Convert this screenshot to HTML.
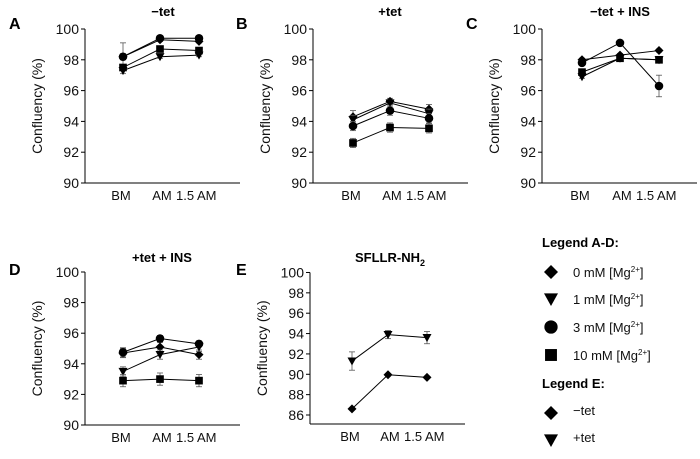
<!DOCTYPE html>
<html><head><meta charset="utf-8">
<style>
html,body{margin:0;padding:0;background:#fff;}
svg{display:block;font-family:"Liberation Sans",Arial,sans-serif;}
</style></head>
<body>
<svg id="fig" width="700" height="459" viewBox="0 0 700 459"></svg>
<script>
const categories = ["BM","AM","1.5 AM"];
const seriesNamesAD = ["0 mM","1 mM","3 mM","10 mM"];
const markerTypesAD = ["diamond","triangle","circle","square"];
const yTicksAD = [90,92,94,96,98,100];
const yTicksE = [86,88,90,92,94,96,98,100];
// Panel A (-tet)
const aDiamond = [98.2,99.3,99.2];
const aTriangle = [97.3,98.2,98.3];
const aCircle = [98.2,99.4,99.4];
const aSquare = [97.5,98.7,98.6];
const aErr = [[0.2,0.1,0.1],[0.2,0.1,0.1],[0.9,0.1,0.1],[0.2,0.1,0.1]];
// Panel B (+tet)
const bDiamond = [94.3,95.3,94.8];
const bTriangle = [94.1,95.2,94.5];
const bCircle = [93.7,94.7,94.2];
const bSquare = [92.6,93.6,93.55];
const bErr = [[0.4,0.2,0.3],[0.3,0.2,0.3],[0.3,0.3,0.3],[0.3,0.3,0.3]];
// Panel C (-tet + INS)
const cDiamond = [98.0,98.3,98.6];
const cTriangle = [96.9,98.1,98.0];
const cCircle = [97.8,99.1,96.3];
const cSquare = [97.2,98.1,98.0];
const cErr = [[0.1,0.1,0.1],[0.1,0.1,0.1],[0.1,0.1,0.7],[0.1,0.1,0.1]];
// Panel D (+tet + INS)
const dDiamond = [94.7,95.1,94.6];
const dTriangle = [93.5,94.6,95.1];
const dCircle = [94.75,95.65,95.3];
const dSquare = [92.9,93.0,92.9];
const dErr = [[0.3,0.3,0.3],[0.3,0.3,0.3],[0.3,0.2,0.2],[0.4,0.4,0.4]];
// Panel E (SFLLR-NH2)
const eMinusTet = [86.6,89.95,89.7];
const ePlusTet = [91.3,93.9,93.6];
const eErr = [[0.1,0.1,0.1],[0.9,0.4,0.6]];

const NS="http://www.w3.org/2000/svg";
const svg=document.getElementById('fig');
function mk(tag,attrs,parent,text){const e=document.createElementNS(NS,tag);for(const k in attrs)e.setAttribute(k,attrs[k]);if(text!==undefined)e.textContent=text;(parent||svg).appendChild(e);return e;}

function marker(g,type,x,y,s){
  s=s||5;
  let e;
  if(type==="diamond") e=mk('polygon',{points:`${x},${y-s} ${x+s},${y} ${x},${y+s} ${x-s},${y}`,fill:'#000'},g);
  else if(type==="triangle") e=mk('polygon',{points:`${x-s},${y-s*0.8} ${x+s},${y-s*0.8} ${x},${y+s}`,fill:'#000'},g);
  else if(type==="circle") e=mk('circle',{cx:x,cy:y,r:s*0.95,fill:'#000'},g);
  else e=mk('rect',{x:x-s*0.85,y:y-s*0.85,width:s*1.7,height:s*1.7,fill:'#000'},g);
  return e;
}

function panel(p){
  const g=mk('g',{});
  
  
  const yS=v=>p.y0-(v-p.vmin)*p.ppu;
  const xS=i=>p.xs[i];
  const L=mk('text',{x:p.letterX,y:p.letterY,'font-size':16,'font-weight':'bold'},g,p.id);
  
  
  const T=mk('text',{x:p.titleX,y:p.titleY,'font-size':13,'font-weight':'bold','text-anchor':'middle'},g);
  
  
  if(p.sub){T.textContent=p.title;mk('tspan',{'font-size':9,dy:4},T,p.sub);}else T.textContent=p.title;
  const ya=mk('line',{x1:p.ax,y1:yS(p.ticks[p.ticks.length-1]),x2:p.ax,y2:p.axBottom,stroke:'#000','stroke-width':1},g);
  
  
  const xa=mk('line',{x1:p.ax,y1:p.axBottom,x2:p.ax+155,y2:p.axBottom,stroke:'#000','stroke-width':1},g);
  
  
  p.ticks.forEach(t=>{
    mk('line',{x1:p.ax-4,y1:yS(t),x2:p.ax,y2:yS(t),stroke:'#000'},g);
    const tl=mk('text',{x:p.ax-6,y:yS(t)+5,'font-size':14,'text-anchor':'end',fill:'#111'},g,String(t));
    
    
  });
  const cx=[xS(0)-2, xS(1)+2, xS(1)+16];
  categories.forEach((c,i)=>{
    const cl=mk('text',{x:cx[i],y:p.axBottom+17,'font-size':13,'text-anchor':i==2?'start':'middle',fill:'#111'},g,c);
    
    
  });
  const yl=mk('text',{transform:`translate(${p.ax-43},${(yS(p.ticks[p.ticks.length-1])+p.axBottom)/2}) rotate(-90)`,'font-size':14,'text-anchor':'middle',fill:'#111'},g,'Confluency (%)');
  
  
  p.series.forEach((vals,si)=>{
    const sg=mk('g',{},g);
    
    
    mk('polyline',{points:vals.map((v,i)=>`${xS(i)},${yS(v)}`).join(' '),fill:'none',stroke:'#000','stroke-width':1},sg);
    vals.forEach((v,i)=>{
      const e=p.errs[si][i];
      mk('line',{x1:xS(i),y1:yS(v-e),x2:xS(i),y2:yS(v+e),stroke:'#555','stroke-width':0.8},sg);
      mk('line',{x1:xS(i)-3,y1:yS(v-e),x2:xS(i)+3,y2:yS(v-e),stroke:'#555','stroke-width':0.8},sg);
      mk('line',{x1:xS(i)-3,y1:yS(v+e),x2:xS(i)+3,y2:yS(v+e),stroke:'#555','stroke-width':0.8},sg);
      const m=marker(sg,p.markers[si],xS(i),yS(v),4.5);
      
      
    });
  });
}

const adScale={vmin:90,ppu:15.4,ticks:yTicksAD,names:seriesNamesAD,markers:markerTypesAD};
panel(Object.assign({id:'A',title:'\u2212tet',titleX:163,titleY:16,letterX:9,letterY:29,ax:85,y0:183,axBottom:183,xs:[123,160,199],series:[aDiamond,aTriangle,aCircle,aSquare],errs:aErr},adScale));
panel(Object.assign({id:'B',title:'+tet',titleX:390,titleY:16,letterX:236,letterY:29,ax:313,y0:183,axBottom:183,xs:[353,390,429],series:[bDiamond,bTriangle,bCircle,bSquare],errs:bErr},adScale));
panel(Object.assign({id:'C',title:'\u2212tet + INS',titleX:620,titleY:16,letterX:466,letterY:29,ax:542,y0:183,axBottom:183,xs:[582,620,659],series:[cDiamond,cTriangle,cCircle,cSquare],errs:cErr},adScale));
panel(Object.assign({id:'D',title:'+tet + INS',titleX:162,titleY:262,letterX:9,letterY:275,ax:85,y0:425,axBottom:425,xs:[123,160,199],series:[dDiamond,dTriangle,dCircle,dSquare],errs:dErr},adScale,{ppu:15.3}));
panel({id:'E',title:'SFLLR-NH',sub:'2',titleX:390,titleY:262,letterX:236,letterY:275,ax:310,y0:415,vmin:86,ppu:10.18,axBottom:424,xs:[352,388,427],ticks:yTicksE,names:['minus-tet','plus-tet'],markers:['diamond','triangle'],series:[eMinusTet,ePlusTet],errs:eErr});

const lg=mk('g',{});


const h1=mk('text',{x:542,y:247,'font-size':13,'font-weight':'bold'},lg,'Legend A-D:');


const legY=[272,299,327,355];
const legLabels=['0 mM [Mg','1 mM [Mg','3 mM [Mg','10 mM [Mg'];
legLabels.forEach((t,i)=>{
  const eg=mk('g',{},lg);
  
  
  marker(eg,markerTypesAD[i],551,legY[i],7);
  const tx=mk('text',{x:573,y:legY[i]+5,'font-size':13,fill:'#111'},eg,t);
  mk('tspan',{'font-size':8,dy:-5},tx,'2+');
  mk('tspan',{dy:5},tx,']');
});
const h2=mk('text',{x:542,y:388,'font-size':13,'font-weight':'bold'},lg,'Legend E:');


[['diamond','\u2212tet',413],['triangle','+tet',440]].forEach(([m,t,y])=>{
  const eg=mk('g',{},lg);
  
  
  marker(eg,m,551,y,7);
  mk('text',{x:573,y:y+2,'font-size':13,fill:'#111'},eg,t);
});
</script>
</body></html>
